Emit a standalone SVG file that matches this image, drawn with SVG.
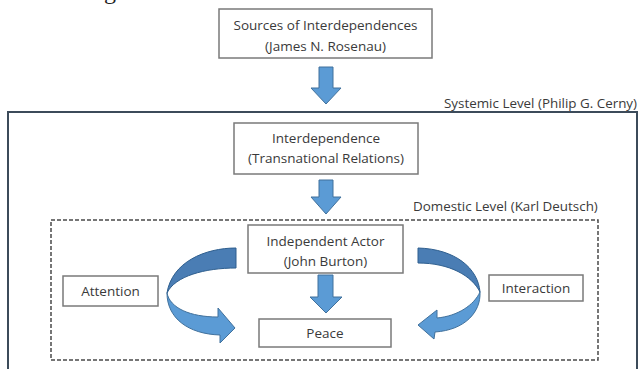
<svg xmlns="http://www.w3.org/2000/svg" width="641" height="369" viewBox="0 0 641 369">
<style>
.box{fill:#fff;stroke:#7a7a7a;stroke-width:1.5}
.t{font-family:"Open Sans","Liberation Sans",sans-serif;font-size:13.5px;fill:#3a3a3a;text-anchor:middle}
.lbl{font-family:"Open Sans","Liberation Sans",sans-serif;font-size:13.4px;fill:#3a3a3a}
.arr{fill:#5b9bd5;stroke:#41719c;stroke-width:1}
.dark{fill:#4a7db4;stroke:#2f5f8f;stroke-width:1}
</style>
<rect width="641" height="369" fill="#fff"/>
<text x="104" y="-1" font-family="Liberation Serif,serif" font-size="24" fill="#222">g</text>
<g id="systemic">
<rect x="8" y="112" width="629" height="262" fill="none" stroke="#3c4b5a" stroke-width="2"/>
<text class="lbl" x="444" y="108">Systemic Level (Philip G. Cerny)</text>
</g>
<g id="domestic">
<rect x="51" y="220" width="547" height="140" fill="none" stroke="#4a4a4a" stroke-width="1.5" stroke-dasharray="4 2"/>
<text class="lbl" x="413" y="211">Domestic Level (Karl Deutsch)</text>
</g>
<g id="sources">
<rect class="box" x="219" y="9" width="213" height="49"/>
<text class="t" x="325.5" y="30">Sources of Interdependences</text>
<text class="t" x="325.5" y="51">(James N. Rosenau)</text>
</g>
<g id="interdependence">
<rect class="box" x="234" y="123" width="184" height="51"/>
<text class="t" x="326" y="143">Interdependence</text>
<text class="t" x="326" y="163">(Transnational Relations)</text>
</g>
<g id="actor">
<rect class="box" x="248" y="225" width="155" height="48"/>
<text class="t" x="325.5" y="246">Independent Actor</text>
<text class="t" x="325.5" y="266">(John Burton)</text>
</g>
<g id="peace">
<rect class="box" x="259" y="319" width="132" height="28"/>
<text class="t" x="325" y="338">Peace</text>
</g>
<g id="attention">
<rect class="box" x="63" y="276" width="95" height="30"/>
<text class="t" x="110.5" y="296">Attention</text>
</g>
<g id="interaction">
<rect class="box" x="489" y="275" width="94" height="26"/>
<text class="t" x="536" y="293">Interaction</text>
</g>
<g id="connectors">
<path class="arr" d="M319,67 H333 V88 H341 L326,104 L311,88 H319 Z"/>
<path class="arr" d="M319,180 H333 V197 H341 L326,214 L311,197 H319 Z"/>
<path class="arr" d="M318,275 H333 V297 H342 L326,313 L310,297 H318 Z"/>
<path class="dark" d="M236,248 C205,248 172,262 167,293 C175,276 205,268 236,268 Z"/>
<path class="arr" d="M167,293 C170,308 190,317 218,317 L218,308 L235,328 L220,343 L220,335 C188,334 167,318 167,293 Z"/>
<path class="dark" d="M418,248 C455,249 478,268 480,292 C472,276 450,263 418,263 Z"/>
<path class="arr" d="M480,292 C481,312 465,330 435,332 L434,339 L418,325 L437,310 L437,318 C458,316 474,305 480,292 Z"/>
</g>
</svg>
